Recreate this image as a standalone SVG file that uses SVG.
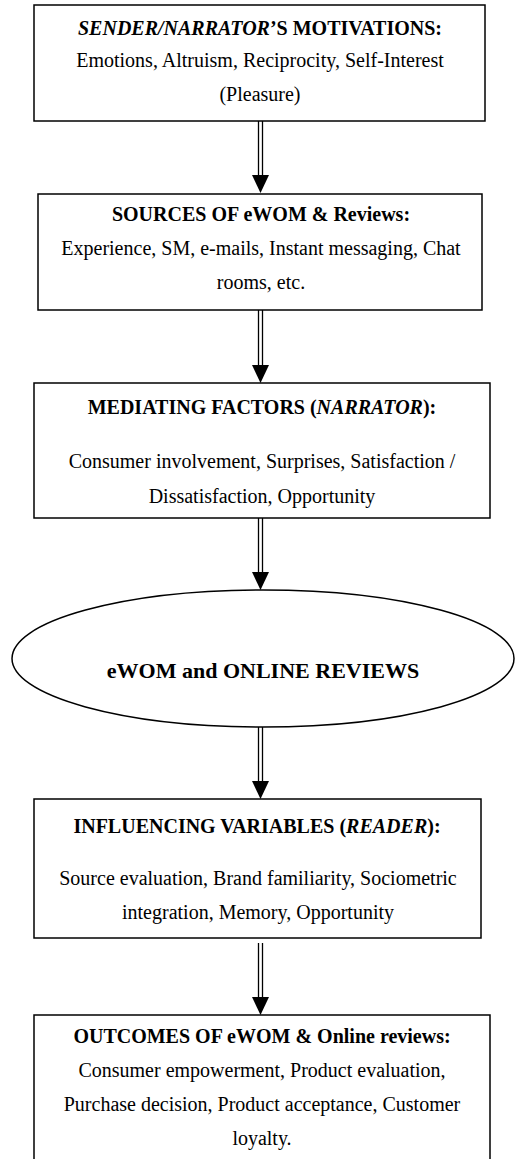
<svg xmlns="http://www.w3.org/2000/svg" width="515" height="1159" viewBox="0 0 515 1159">
<defs>
<style>
.box{fill:#fff;stroke:#000;stroke-width:1.5}
.t{font-family:"Liberation Serif","Times New Roman",serif;font-size:20px;fill:#000;text-anchor:middle}
.b{font-weight:bold}
.i{font-style:italic}
.big{font-size:22px}
.ln{stroke:#000;stroke-width:1.3;fill:none}
.ah{fill:#000}
</style>
</defs>
<rect width="515" height="1159" fill="#fff"/>
<g id="connectors">
<g id="a1"><line class="ln" x1="258.5" y1="121" x2="258.5" y2="176"/><line class="ln" x1="262.5" y1="121" x2="262.5" y2="176"/><polygon class="ah" points="252,175 269,175 260.5,193"/></g>
<g id="a2"><line class="ln" x1="258.5" y1="310" x2="258.5" y2="366"/><line class="ln" x1="262.5" y1="310" x2="262.5" y2="366"/><polygon class="ah" points="252,365 269,365 260.5,383"/></g>
<g id="a3"><line class="ln" x1="258.5" y1="518" x2="258.5" y2="573"/><line class="ln" x1="262.5" y1="518" x2="262.5" y2="573"/><polygon class="ah" points="252,572 269,572 260.5,590"/></g>
<g id="a4"><line class="ln" x1="258.5" y1="727" x2="258.5" y2="782"/><line class="ln" x1="262.5" y1="727" x2="262.5" y2="782"/><polygon class="ah" points="252,781 269,781 260.5,799"/></g>
<g id="a5"><line class="ln" x1="258.5" y1="943" x2="258.5" y2="998"/><line class="ln" x1="262.5" y1="943" x2="262.5" y2="998"/><polygon class="ah" points="252,997 269,997 260.5,1015"/></g>
</g>
<g id="n1">
<rect class="box" x="34" y="5" width="451" height="116"/>
<text class="t b" x="260" y="34.5"><tspan class="i">SENDER/NARRATOR</tspan>’S MOTIVATIONS:</text>
<text class="t" x="260" y="66.5">Emotions, Altruism, Reciprocity, Self-Interest</text>
<text class="t" x="260" y="100.5">(Pleasure)</text>
</g>
<g id="n2">
<rect class="box" x="38" y="194" width="444" height="116"/>
<text class="t b" x="261" y="220.5">SOURCES OF eWOM &amp; Reviews:</text>
<text class="t" x="261" y="255">Experience, SM, e-mails, Instant messaging, Chat</text>
<text class="t" x="261" y="288.5">rooms, etc.</text>
</g>
<g id="n3">
<rect class="box" x="34" y="383" width="456" height="135"/>
<text class="t b" x="262" y="414">MEDIATING FACTORS (<tspan class="i">NARRATOR</tspan>):</text>
<text class="t" x="262" y="468">Consumer involvement, Surprises, Satisfaction /</text>
<text class="t" x="262" y="503">Dissatisfaction, Opportunity</text>
</g>
<g id="n4">
<ellipse class="box" cx="263" cy="658.5" rx="251" ry="68.5"/>
<text class="t b big" x="263" y="677.5">eWOM and ONLINE REVIEWS</text>
</g>
<g id="n5">
<rect class="box" x="34" y="799" width="447" height="139"/>
<text class="t b" x="257" y="832.5">INFLUENCING VARIABLES (<tspan class="i">READER</tspan>):</text>
<text class="t" x="258" y="885">Source evaluation, Brand familiarity, Sociometric</text>
<text class="t" x="258" y="919">integration, Memory, Opportunity</text>
</g>
<g id="n6">
<rect class="box" x="34" y="1015" width="456" height="150"/>
<text class="t b" x="262" y="1042.5">OUTCOMES OF eWOM &amp; Online reviews:</text>
<text class="t" x="262" y="1077">Consumer empowerment, Product evaluation,</text>
<text class="t" x="262" y="1111">Purchase decision, Product acceptance, Customer</text>
<text class="t" x="262" y="1145">loyalty.</text>
</g>
</svg>
